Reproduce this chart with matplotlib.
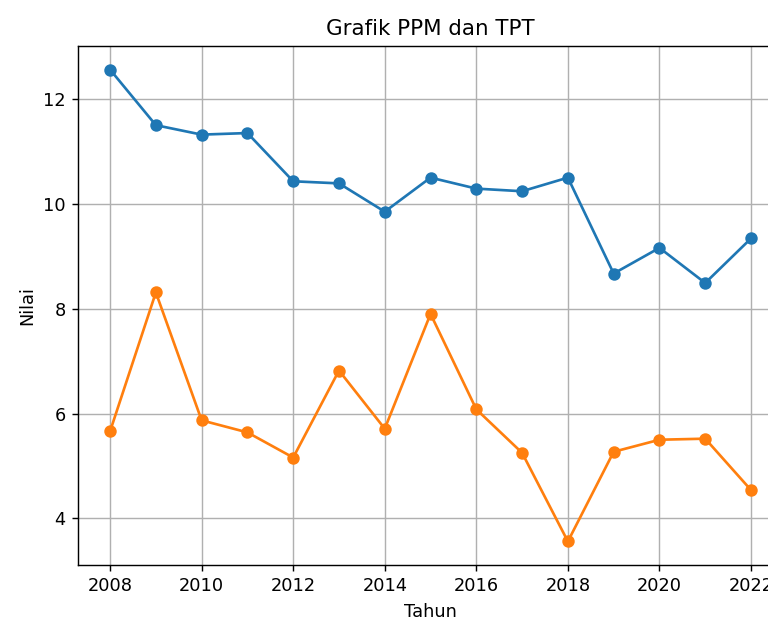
# Grafik PPM dan TPT

import numpy as np
from matplotlib import pyplot as plt

# Data
tahun = [2008, 2009, 2010, 2011, 2012, 2013, 2014, 2015, 2016, 2017, 2018, 2019, 2020, 2021, 2022]
ppm = [12.56, 11.50, 11.32, 11.35, 10.43, 10.39, 9.85, 10.50, 10.29, 10.24, 10.50, 8.67, 9.16, 8.49, 9.34]
tpt = [5.66, 8.31, 5.87, 5.64, 5.16, 6.82, 5.71, 7.90, 6.08, 5.25, 3.56, 5.27, 5.50, 5.52, 4.54]

fig = plt.figure(figsize=(768 / 128, 622 / 128), dpi=128)
# axes sengaja melewati tepi kanan (gambar asli terpotong)
ax = fig.add_axes([0.1016, 0.0916, 0.918, 0.8344])

ax.plot(tahun, ppm, marker='o', label='PPM')
ax.plot(tahun, tpt, marker='o', label='TPT')

ax.set_title('Grafik PPM dan TPT')
ax.set_xlabel('Tahun')
ax.set_ylabel('Nilai')
ax.set_xticks(np.arange(2008, 2023, 2))
ax.grid(True)

plt.savefig('out.png', dpi=128)
